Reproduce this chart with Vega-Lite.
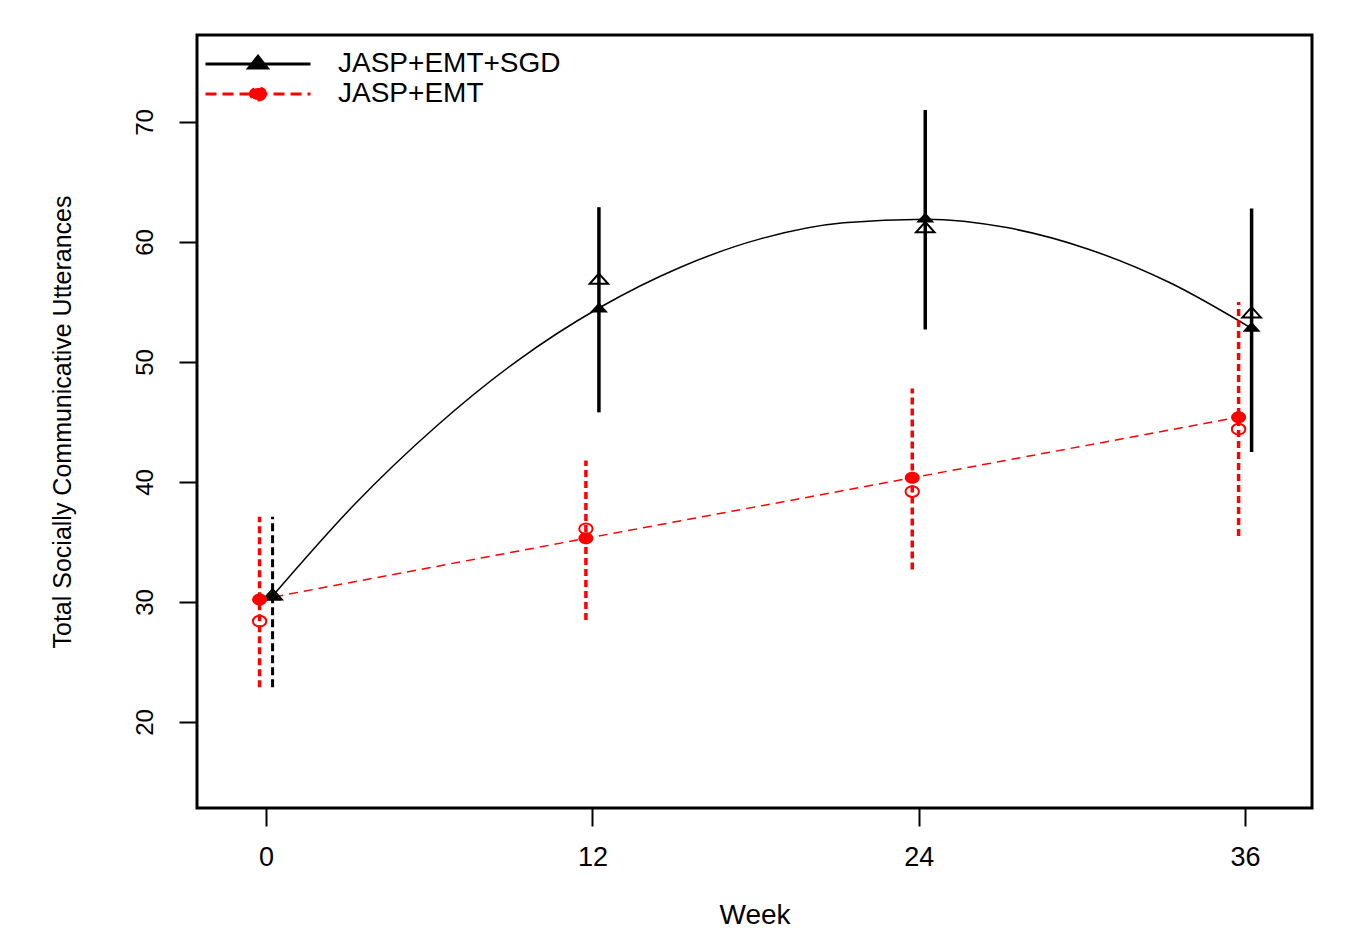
{
  "$schema": "https://vega.github.io/schema/vega-lite/v6.json",
  "width": 1115,
  "height": 773,
  "autosize": {"type": "none"},
  "padding": {"left": 197, "top": 35, "right": 53, "bottom": 124},
  "background": "white",
  "config": {
    "view": {"stroke": "black", "strokeWidth": 3},
    "font": "Liberation Sans",
    "axis": {
      "grid": false, "domain": false, "tickColor": "black", "tickWidth": 2, "tickSize": 18,
      "labelColor": "black", "titleColor": "black", "titleFontWeight": "normal",
      "labelFont": "Liberation Sans", "titleFont": "Liberation Sans"
    },
    "legend": {
      "orient": "none", "legendX": 47, "legendY": 15, "padding": 0,
      "labelFontSize": 28, "labelFont": "Liberation Sans", "labelColor": "black", "labelLimit": 0,
      "symbolSize": 400, "symbolStrokeWidth": 3, "symbolOpacity": 1,
      "labelOffset": 66, "rowPadding": 2
    }
  },
  "datasets": {
    "points": [
      {"group": "JASP+EMT+SGD", "week": 0, "fitted": 30.4, "observed": 30.5, "lower": 22.9, "upper": 37.1},
      {"group": "JASP+EMT+SGD", "week": 12, "fitted": 54.4, "observed": 56.8, "lower": 45.8, "upper": 62.9},
      {"group": "JASP+EMT+SGD", "week": 24, "fitted": 61.9, "observed": 61.1, "lower": 52.7, "upper": 71.0},
      {"group": "JASP+EMT+SGD", "week": 36, "fitted": 52.8, "observed": 54.0, "lower": 42.5, "upper": 62.8},
      {"group": "JASP+EMT", "week": 0, "fitted": 30.2, "observed": 28.4, "lower": 22.9, "upper": 37.1},
      {"group": "JASP+EMT", "week": 12, "fitted": 35.3, "observed": 36.1, "lower": 28.5, "upper": 41.8},
      {"group": "JASP+EMT", "week": 24, "fitted": 40.35, "observed": 39.2, "lower": 32.7, "upper": 47.8},
      {"group": "JASP+EMT", "week": 36, "fitted": 45.4, "observed": 44.4, "lower": 35.5, "upper": 55.0}
    ],
    "curve": [
      {"week": 0, "value": 30.5}, {"week": 3, "value": 38.1}, {"week": 6, "value": 44.6},
      {"week": 9, "value": 50.1}, {"week": 12, "value": 54.5}, {"week": 15, "value": 57.9},
      {"week": 18, "value": 60.3}, {"week": 21, "value": 61.6}, {"week": 24, "value": 61.9},
      {"week": 27, "value": 61.2}, {"week": 30, "value": 59.4}, {"week": 33, "value": 56.6},
      {"week": 36, "value": 52.8}
    ]
  },
  "layer": [
    {
      "data": {"name": "curve"},
      "mark": {"type": "line", "color": "black", "strokeWidth": 1.5, "interpolate": "monotone", "xOffset": 6.5},
      "encoding": {
        "x": {"field": "week", "type": "quantitative",
          "scale": {"domain": [-2.54, 38.46], "nice": false, "zero": false},
          "axis": {"values": [0, 12, 24, 36], "title": "Week", "labelFontSize": 27,
            "labelBaseline": "alphabetic", "labelPadding": 39, "labelFlush": false,
            "titleFontSize": 28, "titleBaseline": "alphabetic", "titleY": 115}},
        "y": {"field": "value", "type": "quantitative",
          "scale": {"domain": [12.83, 77.25], "nice": false, "zero": false},
          "axis": {"values": [20, 30, 40, 50, 60, 70], "title": "Total Socially Communicative Utterances",
            "labelFontSize": 24, "labelAngle": -90, "labelAlign": "center", "labelBaseline": "alphabetic",
            "labelPadding": 27, "titleFontSize": 25, "titleAngle": -90, "titleAlign": "center",
            "titleBaseline": "alphabetic", "titleX": -127, "titleY": 386.5}}
      }
    },
    {
      "data": {"name": "points"},
      "transform": [{"filter": "datum.group === 'JASP+EMT'"}],
      "mark": {"type": "line", "color": "red", "strokeWidth": 1.5, "strokeDash": [9, 6], "xOffset": -6.5},
      "encoding": {
        "x": {"field": "week", "type": "quantitative"},
        "y": {"field": "fitted", "type": "quantitative"}
      }
    },
    {
      "data": {"name": "points"},
      "transform": [{"filter": "datum.group === 'JASP+EMT+SGD' && datum.week > 0"}],
      "mark": {"type": "rule", "color": "black", "strokeWidth": 3.5, "xOffset": 6.5},
      "encoding": {
        "x": {"field": "week", "type": "quantitative"},
        "y": {"field": "lower", "type": "quantitative"},
        "y2": {"field": "upper"}
      }
    },
    {
      "data": {"name": "points"},
      "transform": [{"filter": "datum.group === 'JASP+EMT+SGD' && datum.week === 0"}],
      "mark": {"type": "rule", "color": "black", "strokeWidth": 3, "strokeDash": [8, 4], "xOffset": 6.5},
      "encoding": {
        "x": {"field": "week", "type": "quantitative"},
        "y": {"field": "lower", "type": "quantitative"},
        "y2": {"field": "upper"}
      }
    },
    {
      "data": {"name": "points"},
      "transform": [{"filter": "datum.group === 'JASP+EMT'"}],
      "mark": {"type": "rule", "color": "red", "strokeWidth": 3.5, "strokeDash": [7, 4], "xOffset": -6.5},
      "encoding": {
        "x": {"field": "week", "type": "quantitative"},
        "y": {"field": "lower", "type": "quantitative"},
        "y2": {"field": "upper"}
      }
    },
    {
      "data": {"name": "points"},
      "transform": [{"filter": "datum.group === 'JASP+EMT+SGD'"}],
      "mark": {"type": "point", "shape": "M 0 -0.74 L 1 0.37 L -1 0.37 Z", "filled": false, "stroke": "black", "strokeWidth": 2, "size": 340, "opacity": 1, "xOffset": 6.5},
      "encoding": {
        "x": {"field": "week", "type": "quantitative"},
        "y": {"field": "observed", "type": "quantitative"}
      }
    },
    {
      "data": {"name": "points"},
      "transform": [{"filter": "datum.group === 'JASP+EMT'"}],
      "mark": {"type": "point", "shape": "M 1 0 A 1 0.8 0 1 1 -1 0 A 1 0.8 0 1 1 1 0 Z", "filled": false, "stroke": "red", "strokeWidth": 2, "size": 180, "opacity": 1, "xOffset": -6.5},
      "encoding": {
        "x": {"field": "week", "type": "quantitative"},
        "y": {"field": "observed", "type": "quantitative"}
      }
    },
    {
      "data": {"name": "points"},
      "transform": [{"filter": "datum.group === 'JASP+EMT+SGD'"}],
      "mark": {"type": "point", "shape": "M 0 -0.74 L 1 0.37 L -1 0.37 Z", "filled": true, "fill": "black", "size": 330, "opacity": 1, "xOffset": 6.5},
      "encoding": {
        "x": {"field": "week", "type": "quantitative"},
        "y": {"field": "fitted", "type": "quantitative"}
      }
    },
    {
      "data": {"name": "points"},
      "transform": [{"filter": "datum.group === 'JASP+EMT'"}],
      "mark": {"type": "point", "shape": "M 1 0 A 1 0.8 0 1 1 -1 0 A 1 0.8 0 1 1 1 0 Z", "filled": true, "fill": "red", "size": 225, "opacity": 1, "xOffset": -6.5},
      "encoding": {
        "x": {"field": "week", "type": "quantitative"},
        "y": {"field": "fitted", "type": "quantitative"}
      }
    },
    {
      "data": {"name": "points"},
      "mark": {"type": "point", "filled": true, "size": 400, "opacity": 0},
      "encoding": {
        "x": {"field": "week", "type": "quantitative"},
        "y": {"field": "fitted", "type": "quantitative"},
        "color": {"field": "group", "type": "nominal",
          "scale": {"domain": ["JASP+EMT+SGD", "JASP+EMT"], "range": ["black", "red"]},
          "legend": {"title": null}},
        "stroke": {"field": "group", "type": "nominal",
          "scale": {"domain": ["JASP+EMT+SGD", "JASP+EMT"], "range": ["black", "red"]},
          "legend": {"title": null}},
        "shape": {"field": "group", "type": "nominal",
          "scale": {"domain": ["JASP+EMT+SGD", "JASP+EMT"],
            "range": ["M -5.25 0 L 5.25 0 M 0 -0.76 L 0.92 0.4 L -0.92 0.4 Z",
                      "M -5.25 0 L 5.25 0 M 0.75 0 A 0.75 0.6 0 1 1 -0.75 0 A 0.75 0.6 0 1 1 0.75 0 Z"]},
          "legend": {"title": null}},
        "strokeDash": {"field": "group", "type": "nominal",
          "scale": {"domain": ["JASP+EMT+SGD", "JASP+EMT"], "range": [[1, 0], [11, 6]]},
          "legend": {"title": null}}
      }
    }
  ]
}
